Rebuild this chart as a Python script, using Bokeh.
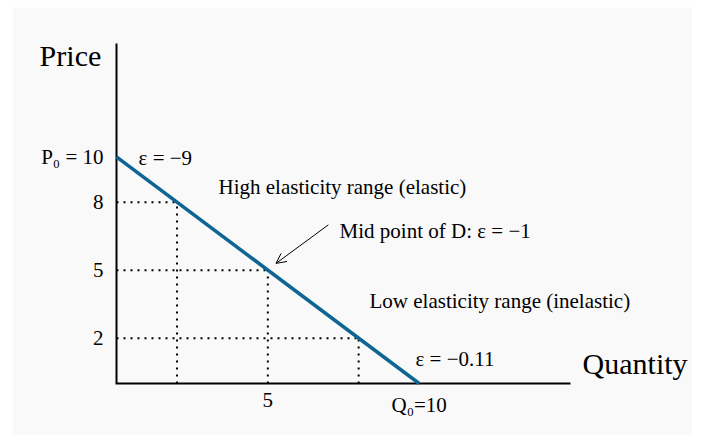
from bokeh.plotting import figure
from bokeh.models import Range1d, Arrow, OpenHead
from bokeh.core.properties import value
from bokeh.embed import file_html
from bokeh.resources import INLINE

# ---- data ----
demand_q = [0, 10]
demand_p = [10, 0]
guide_q = [2, 5, 8]
guide_p = [8, 5, 2]
axis_max = 15
price_ticks = [2, 5, 8, 10]
price_labels = ["2", "5", "8", "P\u2080 = 10"]
qty_ticks = [5, 10]
qty_labels = ["5", "Q\u2080=10"]

BG = "#f9f9f9"
LINE = "#0c6593"
FONT = value("Liberation Serif")

# plot area: axes run 0..15 over 454 x 340 px, with 104/122 px left/right and 36/52 px top/bottom around them
W, H = 680, 428
sx = 454 / axis_max
sy = 340 / axis_max
p = figure(width=W, height=H,
           x_range=Range1d(-104 / sx, (W - 104) / sx),
           y_range=Range1d(-52 / sy, (H - 52) / sy),
           output_backend="svg", toolbar_location=None,
           x_axis_location=None, y_axis_location=None,
           min_border=0)
p.margin = (7, 0, 0, 12)
p.background_fill_color = BG
p.border_fill_color = BG
p.outline_line_color = None
p.grid.visible = False

# axes (L shape)
p.line([0, 0, axis_max], [axis_max, 0, 0], line_color="black", line_width=2, line_join="miter")

# tick labels
p.text(x=[0] * len(price_ticks), y=price_ticks, text=price_labels, x_offset=-13,
       text_align="right", text_baseline="middle", text_font=FONT,
       text_font_size="21px", text_color="black")
p.text(x=qty_ticks, y=[0] * len(qty_ticks), text=qty_labels, y_offset=9,
       text_align="center", text_baseline="top", text_font=FONT,
       text_font_size="21px", text_color="black")

# guides
p.segment(x0=[0] * len(guide_q), y0=guide_p, x1=guide_q, y1=guide_p,
          line_color="black", line_width=2, line_dash="2 5")
p.segment(x0=guide_q, y0=[0] * len(guide_q), x1=guide_q, y1=guide_p,
          line_color="black", line_width=2, line_dash="2 5")

# demand
p.line(demand_q, demand_p, line_color=LINE, line_width=3.5)

def lab(x, y, text, size="21px"):
    p.text(x=[x], y=[y], text=[text], text_font=FONT, text_font_size=size,
           text_color="black", text_baseline="alphabetic", text_align="left")

lab(-2.54, 14.47, "Price", "30px")
lab(15.40, 0.88, "Quantity", "30px")
lab(0.73, 9.97, "\u03b5 = \u22129")
lab(3.37, 8.65, "High elasticity range (elastic)")
lab(7.37, 6.71, "Mid point of D: \u03b5 = \u22121")
lab(8.36, 3.62, "Low elasticity range (inelastic)")
lab(9.88, 1.10, "\u03b5 = \u22120.11")

p.add_layout(Arrow(end=OpenHead(size=10, line_width=1, line_color="black"),
                   x_start=7.0, y_start=7.0, x_end=5.27, y_end=5.3,
                   line_width=1, line_color="black"))

open("out.html", "w").write(file_html(p, INLINE))
